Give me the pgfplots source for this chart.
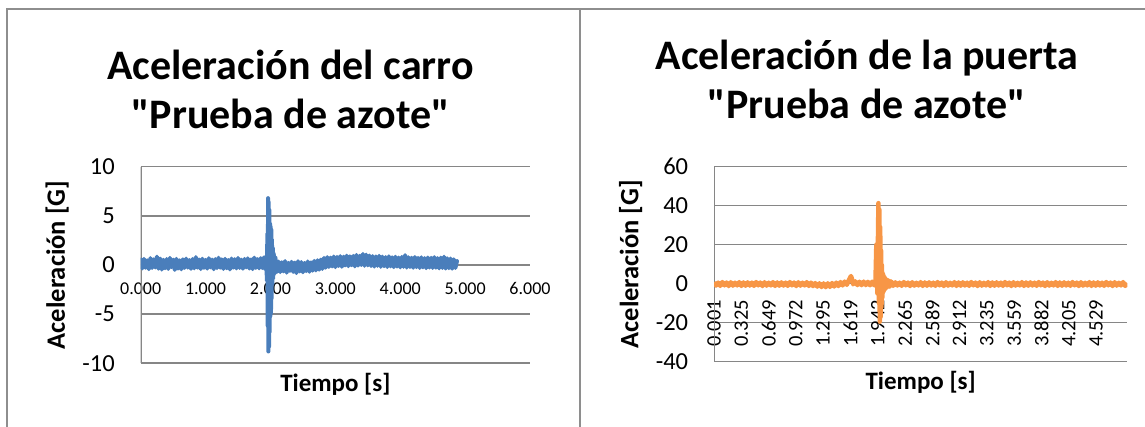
\documentclass[border=0pt]{standalone}
\usepackage{fontspec}
\setmainfont{Carlito}[Ligatures=TeXOff]
\usepackage{pgfplots}
\pgfplotsset{compat=1.18}
\definecolor{xlblue}{HTML}{4A7EBB}
\definecolor{xlorange}{HTML}{F79646}
\definecolor{gridg}{HTML}{868686}
\definecolor{frameg}{HTML}{8E8E8E}

\pgfplotstableread{
t a
0.000 0.55
0.025 -0.35
0.050 0.62
0.075 -0.28
0.100 0.48
0.125 -0.42
0.150 0.70
0.175 -0.30
0.200 0.58
0.225 -0.25
0.250 0.85
0.275 -0.38
0.300 0.66
0.325 -0.46
0.350 0.52
0.375 -0.33
0.400 0.60
0.425 -0.40
0.450 0.72
0.475 -0.22
0.500 0.54
0.525 -0.50
0.550 0.63
0.575 -0.36
0.600 0.47
0.625 -0.44
0.650 0.58
0.675 -0.30
0.700 0.65
0.725 -0.26
0.750 0.50
0.775 -0.39
0.800 0.61
0.825 -0.34
0.850 0.80
0.875 -0.27
0.900 0.56
0.925 -0.41
0.950 0.64
0.975 -0.29
1.000 0.52
1.025 -0.37
1.050 0.69
1.075 -0.24
1.100 0.55
1.125 -0.43
1.150 0.60
1.175 -0.31
1.200 0.74
1.225 -0.28
1.250 0.57
1.275 -0.40
1.300 0.63
1.325 -0.33
1.350 0.50
1.375 -0.45
1.400 0.66
1.425 -0.27
1.450 0.59
1.475 -0.35
1.500 0.71
1.525 -0.30
1.550 0.54
1.575 -0.38
1.600 0.62
1.625 -0.25
1.650 0.68
1.675 -0.36
1.700 0.57
1.725 -0.42
1.750 0.75
1.775 -0.29
1.800 0.60
1.825 -0.34
1.850 0.70
1.875 -0.31
1.900 0.78
1.920 -0.45
1.935 0.90
1.945 -1.60
1.952 3.20
1.958 -6.20
1.963 6.80
1.968 -8.80
1.973 6.40
1.978 -8.30
1.983 5.60
1.988 -6.80
1.993 4.20
1.998 -5.20
2.003 3.90
2.008 -4.90
2.013 3.60
2.018 -3.40
2.023 2.60
2.028 -2.00
2.035 1.80
2.042 -1.40
2.050 1.20
2.060 -0.90
2.075 0.80
2.100 -0.70
2.125 0.35
2.150 -0.72
2.175 0.28
2.200 -0.65
2.225 0.40
2.250 -0.78
2.275 0.22
2.300 -0.60
2.325 0.33
2.350 -0.70
2.375 0.25
2.400 -0.82
2.425 0.38
2.450 -0.66
2.475 0.30
2.500 -0.74
2.525 0.20
2.550 -0.62
2.575 0.36
2.600 -0.69
2.625 0.27
2.650 -0.58
2.675 0.42
2.700 -0.55
2.725 0.48
2.750 -0.48
2.775 0.55
2.800 -0.40
2.825 0.72
2.850 -0.28
2.875 0.80
2.900 -0.20
2.925 0.75
2.950 -0.15
2.975 0.86
3.000 -0.22
3.025 0.82
3.050 -0.10
3.075 0.90
3.100 -0.18
3.125 0.84
3.150 -0.05
3.175 0.95
3.200 -0.12
3.225 0.88
3.250 -0.02
3.275 0.92
3.300 -0.14
3.325 1.02
3.350 -0.06
3.375 0.94
3.400 0.00
3.425 1.12
3.450 -0.08
3.475 1.05
3.500 -0.04
3.525 0.96
3.550 -0.10
3.575 0.90
3.600 -0.16
3.625 0.87
3.650 -0.08
3.675 0.93
3.700 -0.18
3.725 0.85
3.750 -0.12
3.775 0.80
3.800 -0.20
3.825 0.88
3.850 -0.14
3.875 0.78
3.900 -0.22
3.925 0.84
3.950 -0.16
3.975 0.76
4.000 -0.24
4.025 0.82
4.050 -0.18
4.075 1.00
4.100 -0.26
4.125 0.79
4.150 -0.20
4.175 0.74
4.200 -0.28
4.225 0.81
4.250 -0.22
4.275 0.72
4.300 -0.30
4.325 0.78
4.350 -0.24
4.375 0.70
4.400 -0.32
4.425 0.76
4.450 -0.26
4.475 0.73
4.500 -0.30
4.525 0.80
4.550 -0.28
4.575 0.70
4.600 -0.34
4.625 0.75
4.650 -0.30
4.675 0.84
4.700 -0.36
4.725 0.68
4.750 -0.32
4.775 0.66
4.800 -0.38
4.825 0.58
4.850 -0.30
4.875 0.40
}\carro

\pgfplotstableread{
t a
0.001 0.70
0.025 -0.95
0.050 0.55
0.075 -1.10
0.100 0.85
0.125 -0.85
0.150 0.60
0.175 -1.20
0.200 0.75
0.225 -1.00
0.250 0.50
0.275 -0.90
0.300 0.80
0.325 -1.15
0.350 0.65
0.375 -1.05
0.400 0.70
0.425 -0.95
0.450 0.55
0.475 -1.10
0.500 0.85
0.525 -0.85
0.550 0.60
0.575 -1.20
0.600 0.75
0.625 -1.00
0.650 0.50
0.675 -0.90
0.700 0.80
0.725 -1.15
0.750 0.65
0.775 -1.05
0.800 0.70
0.825 -0.95
0.850 0.55
0.875 -1.10
0.900 0.85
0.925 -0.85
0.950 0.60
0.975 -1.20
1.000 0.75
1.025 -1.00
1.050 0.50
1.075 -0.90
1.100 0.80
1.125 -1.15
1.150 0.55
1.175 -1.25
1.200 0.35
1.225 -1.50
1.250 0.20
1.275 -1.70
1.300 0.15
1.325 -1.80
1.350 0.20
1.375 -1.65
1.400 0.35
1.425 -1.45
1.450 0.55
1.475 -1.20
1.500 0.85
1.525 -0.90
1.550 1.10
1.575 -0.60
1.600 1.90
1.615 3.20
1.625 3.90
1.635 2.60
1.650 -0.30
1.675 1.20
1.700 -0.70
1.725 1.00
1.750 -0.75
1.775 1.05
1.800 -0.70
1.825 0.95
1.850 -0.80
1.875 1.00
1.900 -0.85
1.915 1.20
1.925 19.50
1.932 20.50
1.938 -5.00
1.945 25.00
1.950 41.30
1.956 -10.00
1.961 38.00
1.966 -19.50
1.971 29.00
1.976 -17.00
1.981 17.00
1.986 -12.00
1.991 9.50
1.997 -7.00
2.004 5.00
2.012 -3.80
2.020 3.40
2.030 -2.60
2.040 2.50
2.055 -1.90
2.070 1.70
2.085 -1.50
2.100 1.20
2.125 -1.10
2.150 0.70
2.175 -0.95
2.200 0.55
2.225 -1.10
2.250 0.85
2.275 -0.85
2.300 0.60
2.325 -1.20
2.350 0.75
2.375 -1.00
2.400 0.50
2.425 -0.90
2.450 0.80
2.475 -1.15
2.500 0.65
2.525 -1.05
2.550 0.70
2.575 -0.95
2.600 0.55
2.625 -1.10
2.650 0.85
2.675 -0.85
2.700 0.60
2.725 -1.20
2.750 0.75
2.775 -1.00
2.800 0.50
2.825 -0.90
2.850 0.80
2.875 -1.15
2.900 0.65
2.925 -1.05
2.950 0.70
2.975 -0.95
3.000 0.55
3.025 -1.10
3.050 0.85
3.075 -0.85
3.100 0.60
3.125 -1.20
3.150 0.75
3.175 -1.00
3.200 0.50
3.225 -0.90
3.250 0.80
3.275 -1.15
3.300 0.65
3.325 -1.05
3.350 0.70
3.375 -0.95
3.400 0.55
3.425 -1.10
3.450 0.85
3.475 -0.85
3.500 0.60
3.525 -1.20
3.550 0.75
3.575 -1.00
3.600 0.50
3.625 -0.90
3.650 0.80
3.675 -1.15
3.700 0.65
3.725 -1.05
3.750 0.70
3.775 -0.95
3.800 0.55
3.825 -1.10
3.850 0.85
3.875 -0.85
3.900 0.60
3.925 -1.20
3.950 0.75
3.975 -1.00
4.000 0.50
4.025 -0.90
4.050 0.80
4.075 -1.15
4.100 0.65
4.125 -1.05
4.150 0.70
4.175 -0.95
4.200 0.55
4.225 -1.10
4.250 0.85
4.275 -0.85
4.300 0.60
4.325 -1.20
4.350 0.75
4.375 -1.00
4.400 0.50
4.425 -0.90
4.450 0.80
4.475 -1.15
4.500 0.65
4.525 -1.05
4.550 0.70
4.575 -0.95
4.600 0.55
4.625 -1.10
4.650 0.85
4.675 -0.85
4.700 0.60
4.725 -1.20
4.750 0.75
4.775 -1.00
4.800 0.50
4.825 -0.90
4.850 0.80
4.875 -1.15
4.900 0.30
}\puerta

\pgfplotsset{
  xlstyle/.style={
    scale only axis,
    anchor=south west,
    axis line style={draw=none},
    major tick length=0pt,
    ymajorgrids,
    major grid style={draw=gridg, line width=1.6pt},
    yticklabel style={font=\fontsize{24.5}{26}\selectfont, anchor=east, inner sep=0pt, xshift=-25.7pt},
    every axis x label/.style={at={(rel axis cs:0.5,0)}, anchor=base, yshift=-28pt, font=\fontsize{25}{27}\selectfont\bfseries},
    every axis y label/.style={at={(rel axis cs:0,0.5)}, xshift=-75.7pt, rotate=90, anchor=base, font=\fontsize{26.5}{28}\selectfont\bfseries},
    no markers,
  }
}

\begin{document}
\begin{tikzpicture}
\path[use as bounding box] (0pt,0pt) rectangle (1145pt,427pt);
\draw[frameg, line width=2pt] (6.7pt,0pt) -- (6.7pt,418.3pt) -- (1145pt,418.3pt);
\draw[frameg, line width=2pt] (580.3pt,418.3pt) -- (580.3pt,0pt);

\node[anchor=base, font=\fontsize{42}{48}\selectfont\bfseries] at (290.5pt,347pt) {Aceleración del carro};
\node[anchor=base, font=\fontsize{42}{48}\selectfont\bfseries] at (290.5pt,298pt) {"Prueba de azote"};
\node[anchor=base, font=\fontsize{42}{48}\selectfont\bfseries] at (867pt,357pt) {Aceleración de la puerta};
\node[anchor=base, font=\fontsize{42}{48}\selectfont\bfseries] at (867pt,308pt) {"Prueba de azote"};

\begin{axis}[xlstyle,
  at={(140.7pt,63.7pt)}, width=389.3pt, height=196.6pt,
  xmin=0, xmax=6, ymin=-10, ymax=10,
  xtick={0,1,2,3,4,5,6},
  xticklabels={0.000,1.000,2.000,3.000,4.000,5.000,6.000},
  xticklabel style={font=\fontsize{18}{20}\selectfont, anchor=north, inner sep=0pt, yshift=81pt},
  ytick={-10,-5,0,5,10},
  yticklabels={-10,-5,0,5,10},
  xlabel={Tiempo [s]},
  ylabel={Aceleración [G]},
]
\draw[gridg, line width=1.6pt] (axis cs:0,-10) -- (axis cs:0,10);
\addplot[xlblue, line width=4pt, line join=round, line cap=round] table[x=t, y=a] {\carro};
\end{axis}

\begin{axis}[xlstyle,
  at={(714pt,65.3pt)}, width=413.3pt, height=195pt,
  xmin=0.001, xmax=4.9, ymin=-40, ymax=60,
  xtick={0.001,0.325,0.649,0.972,1.295,1.619,1.942,2.265,2.589,2.912,3.235,3.559,3.882,4.205,4.529},
  xticklabels={0.001,0.325,0.649,0.972,1.295,1.619,1.942,2.265,2.589,2.912,3.235,3.559,3.882,4.205,4.529},
  xticklabel style={font=\fontsize{20.5}{21}\selectfont, yshift=62pt, rotate=90, anchor=east, inner sep=0pt},
  ytick={-40,-20,0,20,40,60},
  yticklabels={-40,-20,0,20,40,60},
  xlabel={Tiempo [s]},
  ylabel={Aceleración [G]},
]
\draw[gridg, line width=1.6pt] (axis cs:0.001,-40) -- (axis cs:0.001,60);
\addplot[xlorange, line width=4.5pt, line join=round] table[x=t, y=a] {\puerta};
\end{axis}
\end{tikzpicture}
\end{document}
